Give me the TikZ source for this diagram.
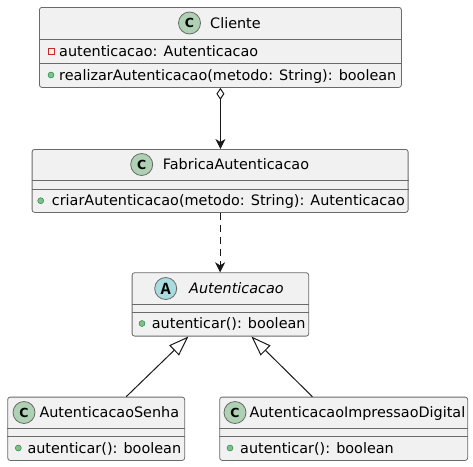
\documentclass[tikz,border=0pt]{standalone}
\usepackage{fontspec}
\setmainfont{DejaVu Sans}
\newfontfamily\spotfont{DejaVu Sans}
\newfontfamily\spotserif{Liberation Mono}
\usetikzlibrary{arrows.meta, positioning, calc}
\definecolor{boxfill}{HTML}{F1F1F1}
\definecolor{edge}{HTML}{181818}
\definecolor{boxedge}{HTML}{6A6A6A}
\definecolor{spotC}{HTML}{ADD1B2}
\definecolor{spotA}{HTML}{A9DCDF}
\definecolor{pubfill}{HTML}{84BE84}
\definecolor{pubedge}{HTML}{038048}
\definecolor{privedge}{HTML}{C82930}

\begin{document}
\begin{tikzpicture}[x=1pt,y=-1pt,
	class box/.style={draw=boxedge,fill=boxfill,line width=0.8pt,rounded corners=2.5pt,anchor=north west,inner sep=0pt},
	spot/.style={circle,draw=boxedge,line width=0.8pt,minimum size=22pt,inner sep=0pt,font=\spotfont\bfseries\fontsize{12.5}{12.5}\selectfont},
	class name/.style={anchor=base west,inner sep=0pt,font=\fontsize{14.4}{14.4}\selectfont},
	class member/.style={anchor=base west,inner sep=0pt,font=\fontsize{14.4}{14.4}\selectfont},
	pub/.style={circle,fill=pubfill,draw=pubedge,line width=0.4pt,minimum size=6pt,inner sep=0pt},
	priv/.style={rectangle,draw=privedge,line width=0.6pt,minimum size=6pt,inner sep=0pt},
	sep/.style={draw=boxedge,line width=0.8pt},
	link/.style={draw=edge,line width=1pt}]
	
	\useasboundingbox (0,0) rectangle (473,466);
	
	% class boxes
	\node[class box, minimum width=362pt, minimum height=80pt] (cliente) at (39,7) {};
	\node[class box, minimum width=376pt, minimum height=63pt] (fabrica) at (31.7,149) {};
	\node[class box, minimum width=176.6pt, minimum height=63.4pt] (autenticacao) at (131.7,272.3) {};
	\node[class box, minimum width=177pt, minimum height=63.3pt] (senha) at (7.3,396.7) {};
	\node[class box, minimum width=248pt, minimum height=63.3pt] (digital) at (219.3,396.7) {};
	
	% compartments
	\draw[sep] ([yshift=-32pt]cliente.north west) -- ([yshift=-32pt]cliente.north east);
	\draw[sep] ([yshift=-56pt]cliente.north west) -- ([yshift=-56pt]cliente.north east);
	\draw[sep] ([yshift=-31.7pt]fabrica.north west) -- ([yshift=-31.7pt]fabrica.north east);
	\draw[sep] ([yshift=-40pt]fabrica.north west) -- ([yshift=-40pt]fabrica.north east);
	\draw[sep] ([yshift=-32pt]autenticacao.north west) -- ([yshift=-32pt]autenticacao.north east);
	\draw[sep] ([yshift=-40.4pt]autenticacao.north west) -- ([yshift=-40.4pt]autenticacao.north east);
	\draw[sep] ([yshift=-32pt]senha.north west) -- ([yshift=-32pt]senha.north east);
	\draw[sep] ([yshift=-39.3pt]senha.north west) -- ([yshift=-39.3pt]senha.north east);
	\draw[sep] ([yshift=-32pt]digital.north west) -- ([yshift=-32pt]digital.north east);
	\draw[sep] ([yshift=-39.3pt]digital.north west) -- ([yshift=-39.3pt]digital.north east);
	
	% Cliente
	\node[spot, fill=spotC] (cliente spot) at (189.5,23) {C};
	\node[class name] (cliente name) at (210,28.3) {Cliente};
	\node[priv] (cliente priv) at (51,51) {};
	\node[class member] (cliente attr) at (59,56) {autenticacao: Autenticacao};
	\node[pub] (cliente pub) at (51,75) {};
	\node[class member] (cliente op) at (59,80) {realizarAutenticacao(metodo: String): boolean};
	
	% FabricaAutenticacao
	\node[spot, fill=spotC] (fabrica spot) at (141.7,164.5) {C};
	\node[class name] (fabrica name) at (162.7,169.5) {FabricaAutenticacao};
	\node[pub] (fabrica pub) at (40.7,200.7) {};
	\node[class member] (fabrica op) at (51.7,205.7) {criarAutenticacao(metodo: String): Autenticacao};
	
	% Autenticacao
	\node[spot, fill=spotA, font=\spotserif\bfseries\fontsize{17}{17}\selectfont] (autenticacao spot) at (165.7,288.5) {A};
	\node[class name, font=\fontsize{14.4}{14.4}\selectfont\itshape] (autenticacao name) at (189,293) {Autenticacao};
	\node[pub] (autenticacao pub) at (142,323.5) {};
	\node[class member] (autenticacao op) at (151.7,328.5) {autenticar(): boolean};
	
	% AutenticacaoSenha
	\node[spot, fill=spotC] (senha spot) at (24,412.5) {C};
	\node[class name] (senha name) at (39.3,417.5) {AutenticacaoSenha};
	\node[pub] (senha pub) at (18.3,448) {};
	\node[class member] (senha op) at (27.3,453) {autenticar(): boolean};
	
	% AutenticacaoImpressaoDigital
	\node[spot, fill=spotC] (digital spot) at (235,412.5) {C};
	\node[class name] (digital name) at (249.3,417.5) {AutenticacaoImpressaoDigital};
	\node[pub] (digital pub) at (230,448) {};
	\node[class member] (digital op) at (240,453) {autenticar(): boolean};
	
	% relations
	\draw[link, {Diamond[open,fill=white,length=12pt,width=8pt]}-{Stealth[length=10pt,width=10pt,inset=3pt]}]
		(cliente.south) -- (cliente.south |- fabrica.north);
	\draw[link, dash pattern=on 7pt off 5pt, -{Stealth[length=10pt,width=10pt,inset=3pt]}]
		(fabrica.south) -- (fabrica.south |- autenticacao.north);
	\draw[link, -{Triangle[open,fill=white,length=20pt,width=14pt]}]
		([xshift=30pt]senha.north) -- ([xshift=-32pt]autenticacao.south);
	\draw[link, -{Triangle[open,fill=white,length=20pt,width=14pt]}]
		([xshift=-31.3pt]digital.north) -- ([xshift=31pt]autenticacao.south);
\end{tikzpicture}
\end{document}
